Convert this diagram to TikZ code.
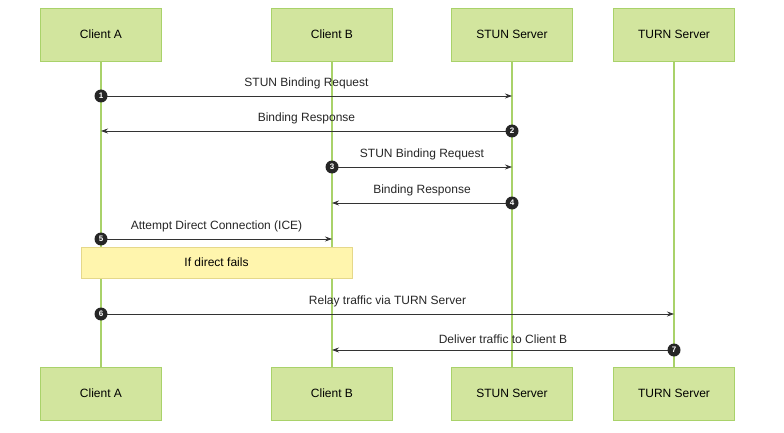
\documentclass[tikz,border=0pt]{standalone}
\usepackage{fontspec}
\setmainfont{Liberation Sans}
\usetikzlibrary{arrows.meta}
\definecolor{actfill}{HTML}{D2E59E}
\definecolor{actline}{HTML}{A9D26A}
\definecolor{notefill}{HTML}{FFF5AD}
\definecolor{noteline}{HTML}{E5D88A}
\begin{document}
\begin{tikzpicture}[x=1pt,y=-1pt,
  actor/.style={draw=actline,fill=actfill,line width=0.8pt,minimum width=121pt,minimum height=53pt,font=\fontsize{12}{14}\selectfont},
  life/.style={draw=actline,line width=1.4pt},
  msg/.style={draw=black!80,line width=0.7pt,-{Stealth[length=7pt,width=5pt]}},
  lbl/.style={font=\fontsize{12}{14}\selectfont,text=black!85},
  num/.style={circle,fill=black!85,text=white,inner sep=0pt,minimum size=13pt,font=\bfseries\fontsize{8}{9}\selectfont}]
\useasboundingbox (0,0) rectangle (784,433);
\foreach \n/\x/\t in {a/101/Client A,b/332/Client B,s/512/STUN Server,t/674/TURN Server}{
  \node[actor] (\n1) at (\x,34.5) {\t};
  \node[actor] (\n2) at (\x,393.5) {\t};
  \draw[life] (\n1.south) -- (\n2.north);
}
\node[draw=noteline,fill=notefill,line width=0.8pt,minimum width=271pt,minimum height=31pt,font=\fontsize{12}{14}\selectfont] (note) at (216.5,262.5) {If direct fails};
% messages
\coordinate (a96) at (101,96); \coordinate (s96) at (512,96);
\coordinate (a131) at (101,131); \coordinate (s131) at (512,131);
\coordinate (b167) at (332,167); \coordinate (s167) at (512,167);
\coordinate (b203) at (332,203); \coordinate (s203) at (512,203);
\coordinate (a239) at (101,239); \coordinate (b239) at (332,239);
\coordinate (a314) at (101,314); \coordinate (t314) at (674,314);
\coordinate (b350) at (332,350); \coordinate (t350) at (674,350);
\draw[msg] (a96) -- node[lbl,above=3pt] {STUN Binding Request} (s96);
\draw[msg] (s131) -- node[lbl,above=3pt] {Binding Response} (a131);
\draw[msg] (b167) -- node[lbl,above=3pt] {STUN Binding Request} (s167);
\draw[msg] (s203) -- node[lbl,above=3pt] {Binding Response} (b203);
\draw[msg] (a239) -- node[lbl,above=3pt] {Attempt Direct Connection (ICE)} (b239);
\draw[msg] (a314) -- node[lbl,above=3pt] {Relay traffic via TURN Server} (t314);
\draw[msg] (t350) -- node[lbl,above=3pt] {Deliver traffic to Client B} (b350);
\node[num] (n1) at (a96) {1};
\node[num] (n2) at (s131) {2};
\node[num] (n3) at (b167) {3};
\node[num] (n4) at (s203) {4};
\node[num] (n5) at (a239) {5};
\node[num] (n6) at (a314) {6};
\node[num] (n7) at (t350) {7};
\end{tikzpicture}
\end{document}
